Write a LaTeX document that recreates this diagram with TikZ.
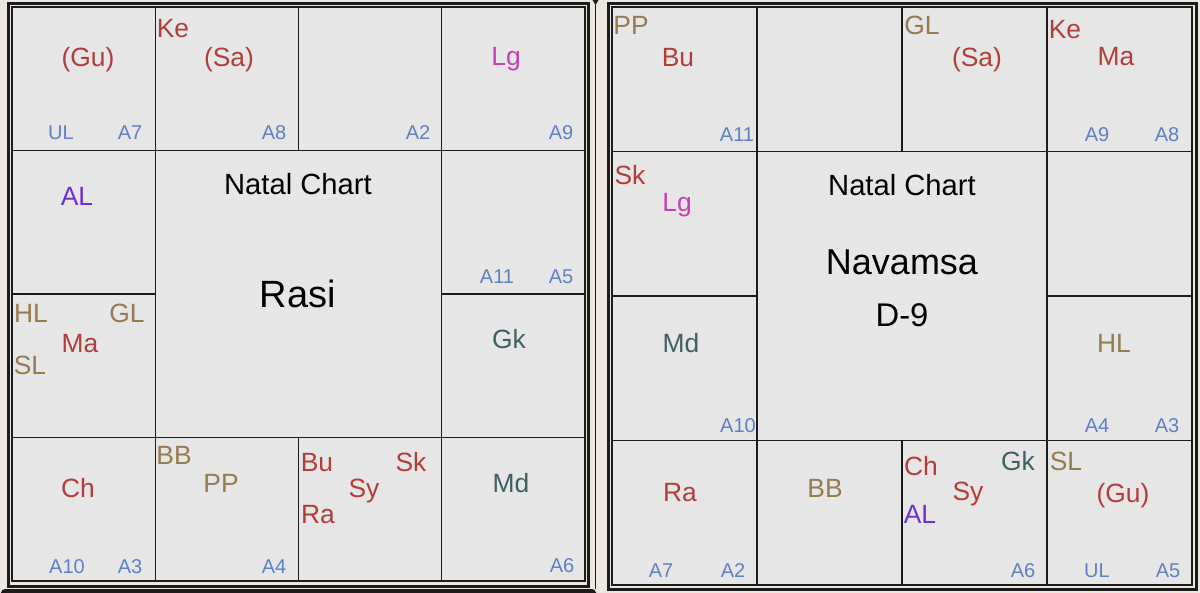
\documentclass[tikz,border=0pt]{standalone}
\usepackage{fontspec}
\setmainfont{Liberation Sans}
\definecolor{winbg}{RGB}{236,231,225}
\definecolor{cellbg}{RGB}{230,230,230}
\definecolor{rule}{RGB}{28,28,28}
\definecolor{plred}{RGB}{178,62,58}
\definecolor{sptan}{RGB}{150,122,80}
\definecolor{arblue}{RGB}{95,128,195}
\definecolor{lgpink}{RGB}{200,62,180}
\definecolor{alpurple}{RGB}{112,48,212}
\definecolor{gkteal}{RGB}{62,96,98}
\begin{document}
\begin{tikzpicture}[
      x=0.5pt, y=-0.5pt,
      frame/.style={draw=rule, line width=1.5pt},
      grid/.style={draw=rule, line width=0.65pt},
      lbl/.style={anchor=base, inner sep=0pt},
      PL/.style={lbl, text=plred, font=\fontsize{13.2}{15}\selectfont},
      SP/.style={lbl, text=sptan, font=\fontsize{13.2}{15}\selectfont},
      LG/.style={lbl, text=lgpink, font=\fontsize{13.2}{15}\selectfont},
      AL/.style={lbl, text=alpurple, font=\fontsize{13.2}{15}\selectfont},
      GK/.style={lbl, text=gkteal, font=\fontsize{13.2}{15}\selectfont},
      AR/.style={lbl, text=arblue, font=\fontsize{10}{12}\selectfont},
      TI/.style={lbl, text=black, font=\fontsize{14.6}{17}\selectfont}]
      \useasboundingbox (0,0) rectangle (1200,593);
      \fill[winbg] (0,0) rectangle (1200,593);
      \fill[rule, rounded corners=2pt] (1,589) rectangle (596,596);
      \draw[rule, line width=0.6pt] (595.5,0) -- (595.5,589);
      \fill[rule] (592.5,0) -- (598.5,0) -- (595.5,5) -- cycle;
      \draw[frame] (8.5,3.5) rectangle (588.5,586.5);
      \draw[frame] (608.5,3.5) rectangle (1196.5,589.5);
      \foreach \ox/\oy/\cw/\chh in {12/7/143.25/143.5, 612/7/145/144.5} {
        \fill[cellbg] (\ox,\oy) rectangle ++({4*\cw},{4*\chh});
        \draw[grid] (\ox,\oy) rectangle ++({4*\cw},{4*\chh});
        \draw[grid] ({\ox+\cw},\oy) -- ++(0,{4*\chh});
        \draw[grid] ({\ox+3*\cw},\oy) -- ++(0,{4*\chh});
        \draw[grid] (\ox,{\oy+\chh}) -- ++({4*\cw},0);
        \draw[grid] (\ox,{\oy+3*\chh}) -- ++({4*\cw},0);
        \draw[grid] ({\ox+2*\cw},\oy) -- ++(0,\chh)
                    ({\ox+2*\cw},{\oy+3*\chh}) -- ++(0,\chh);
        \draw[grid] (\ox,{\oy+2*\chh}) -- ++(\cw,0)
                    ({\ox+3*\cw},{\oy+2*\chh}) -- ++(\cw,0);
      }
      % Rasi
      \node[PL] (lGu) at (88,67) {(Gu)};
      \node[AR] (lUL) at (61,140) {UL};
      \node[AR] (lA7) at (130,140) {A7};
      \node[PL] (lKe) at (173,38) {Ke};
      \node[PL] (lSa) at (229,67) {(Sa)};
      \node[AR] (lA8) at (274,140) {A8};
      \node[AR] (lA2) at (418,140) {A2};
      \node[LG] (lLg) at (506,66) {Lg};
      \node[AR] (lA9) at (561,140) {A9};
      \node[AL] (lAL) at (77,206) {AL};
      \node[TI] (lNatal) at (298,195) {Natal Chart};
      \node[TI, font=\fontsize{19}{22}\selectfont] (lRasi) at (298,308) {Rasi};
      \node[AR] (lA11) at (497,284) {A11};
      \node[AR] (lA5) at (561,284) {A5};
      \node[SP] (lHL) at (31,323) {HL};
      \node[SP] (lGL) at (127,323) {GL};
      \node[PL] (lMa) at (80,353) {Ma};
      \node[SP] (lSL) at (30,375) {SL};
      \node[GK] (lGk) at (509,349) {Gk};
      \node[PL] (lCh) at (78,497) {Ch};
      \node[AR] (lA10) at (67,573) {A10};
      \node[AR] (lA3) at (130,573) {A3};
      \node[SP] (lBB) at (174,465) {BB};
      \node[SP] (lPP) at (221,492) {PP};
      \node[AR] (lA4) at (274,573) {A4};
      \node[PL] (lBu) at (317,471) {Bu};
      \node[PL] (lSk) at (411,471) {Sk};
      \node[PL] (lSy) at (364,497) {Sy};
      \node[PL] (lRa) at (318,523) {Ra};
      \node[GK] (lMd) at (511,492) {Md};
      \node[AR] (lA6) at (562,572) {A6};
      % Navamsa
      \node[SP] (rPP) at (631,35) {PP};
      \node[PL] (rBu) at (678,67) {Bu};
      \node[AR] (rA11) at (737,142) {A11};
      \node[SP] (rGL) at (922,35) {GL};
      \node[PL] (rSa) at (977,67) {(Sa)};
      \node[PL] (rKe) at (1065,39) {Ke};
      \node[PL] (rMa) at (1116,66) {Ma};
      \node[AR] (rA9) at (1097,142) {A9};
      \node[AR] (rA8) at (1167,142) {A8};
      \node[PL] (rSk) at (630,185) {Sk};
      \node[LG] (rLg) at (677,212) {Lg};
      \node[TI] (rNatal) at (902,196) {Natal Chart};
      \node[TI, font=\fontsize{18}{21}\selectfont] (rNav) at (902,275) {Navamsa};
      \node[TI, font=\fontsize{16.4}{19}\selectfont] (rD9) at (902,327) {D-9};
      \node[GK] (rMd) at (681,352) {Md};
      \node[AR] (rA10) at (738,432) {A10};
      \node[SP] (rHL) at (1114,352) {HL};
      \node[AR] (rA4) at (1097,432) {A4};
      \node[AR] (rA3) at (1167,432) {A3};
      \node[PL] (rRa) at (680,501) {Ra};
      \node[AR] (rA7) at (661,577) {A7};
      \node[AR] (rA2) at (733,577) {A2};
      \node[SP] (rBB) at (825,497) {BB};
      \node[PL] (rCh) at (921,475) {Ch};
      \node[GK] (rGk) at (1018,470) {Gk};
      \node[PL] (rSy) at (968,500) {Sy};
      \node[AL] (rAL) at (920,523) {AL};
      \node[AR] (rA6) at (1023,577) {A6};
      \node[SP] (rSL) at (1066,470) {SL};
      \node[PL] (rGu) at (1123,502) {(Gu)};
      \node[AR] (rUL) at (1097,577) {UL};
      \node[AR] (rA5) at (1168,577) {A5};
    \end{tikzpicture}
\end{document}
